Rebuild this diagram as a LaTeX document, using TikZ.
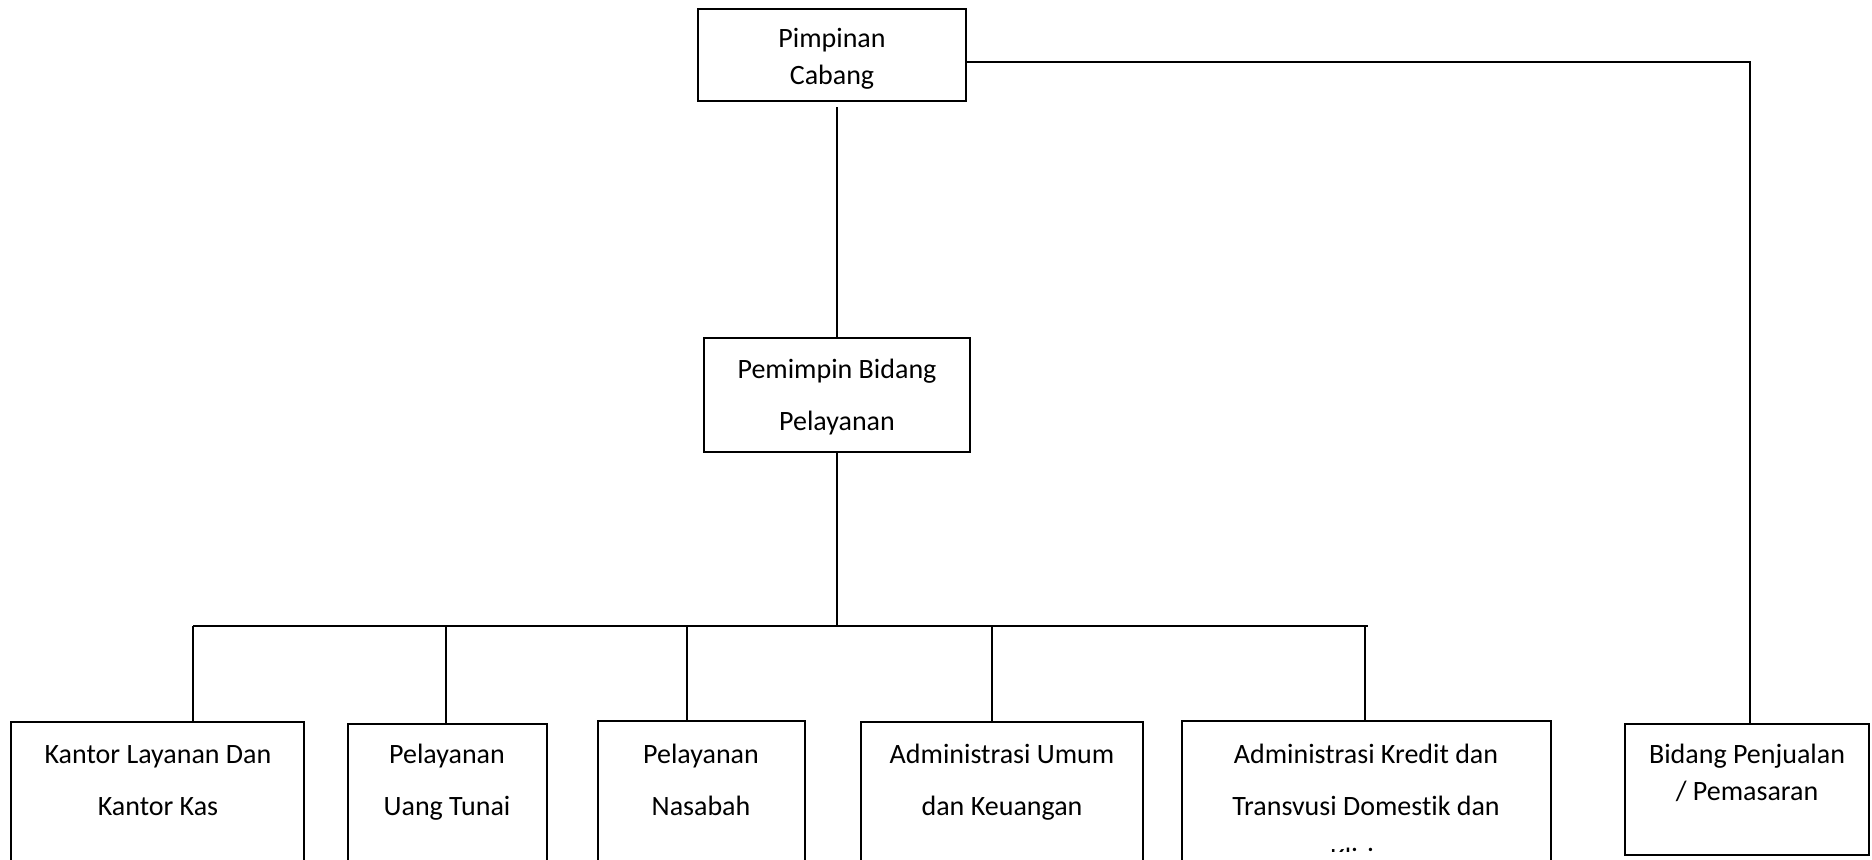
\documentclass[tikz,border=0pt]{standalone}
\usepackage{fontspec}
\setmainfont{Carlito}[Ligatures=NoCommon]
\usetikzlibrary{fit}
\begin{document}
\begin{tikzpicture}[x=0.5pt,y=-0.5pt,
  box/.style={draw, line width=1pt, inner sep=0pt},
  wire/.style={line width=1pt},
  lbl/.style={inner sep=0pt, align=center, anchor=base},
  wide/.style={font=\fontsize{14}{26}\selectfont},
  tight/.style={font=\fontsize{14}{18.3}\selectfont}]
\useasboundingbox (0,0) rectangle (1872,859);
\clip (0,0) rectangle (1872,859);
% boxes
\node[box, fit={(698,9)(966,101)}] (tb) {};
\node[box, fit={(704,338)(970,452)}] (mb) {};
\node[box, fit={(11,722)(304,900)}] (b1) {};
\node[box, fit={(348,724)(547,900)}] (b2) {};
\node[box, fit={(598,721)(805,900)}] (b3) {};
\node[box, fit={(861,722)(1143,900)}] (b4) {};
\node[box, fit={(1182,721)(1551,900)}] (b5) {};
\node[box, fit={(1625,724)(1869,855)}] (b6) {};
% texts (anchored at the baseline of the last line)
\node[lbl, tight] (ttb) at (832,84) {Pimpinan\\Cabang};
\node[lbl, wide] (tmb) at (837,430) {Pemimpin Bidang\\Pelayanan};
\node[lbl, wide] (tb1) at (158,815) {Kantor Layanan Dan\\Kantor Kas};
\node[lbl, wide] (tb2) at (447,815) {Pelayanan\\Uang Tunai};
\node[lbl, wide] (tb3) at (701,815) {Pelayanan\\Nasabah};
\node[lbl, wide] (tb4) at (1002,815) {Administrasi Umum\\dan Keuangan};
\begin{scope}
\clip (1183,722) rectangle (1550,851);
\node[lbl, wide] (tb5) at (1366,867) {Administrasi Kredit dan\\Transvusi Domestik dan\\Kliring};
\end{scope}
\node[lbl, tight] (tb6) at (1747,800) {Bidang Penjualan\\/ Pemasaran};
% connectors
\coordinate (tbs) at (837,107);
\coordinate (bus) at (837,626);
\coordinate (busL) at (193,626);
\coordinate (busR) at (1368,626);
\coordinate (d2) at (446,626);
\coordinate (d3) at (687,626);
\coordinate (d4) at (992,626);
\coordinate (d5) at (1365,626);
\coordinate (tbe) at (966,62);
\coordinate (cr) at (1750,62);
\draw[wire] (tbs) -- (mb.north);
\draw[wire] (mb.south) -- (bus);
\draw[wire] (busL) -- (busR);
\draw[wire] (busL) -- (busL |- b1.north);
\draw[wire] (d2) -- (d2 |- b2.north);
\draw[wire] (d3) -- (d3 |- b3.north);
\draw[wire] (d4) -- (d4 |- b4.north);
\draw[wire] (d5) -- (d5 |- b5.north);
\draw[wire] (tbe) -- (cr) -- (cr |- b6.north);
\end{tikzpicture}
\end{document}
